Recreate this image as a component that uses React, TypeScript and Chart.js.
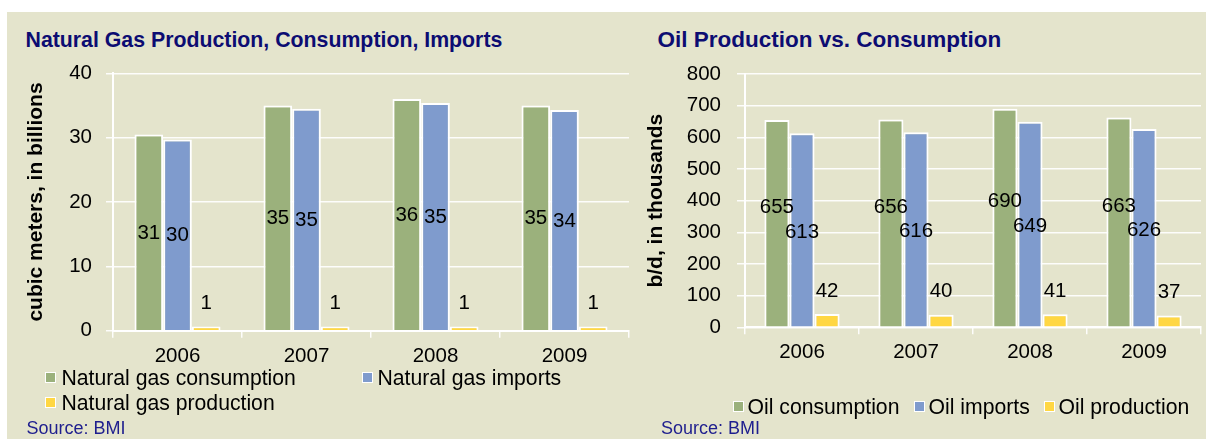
import React, { useEffect, useRef } from "react";
import { Chart, registerables } from "chart.js";

Chart.register(...registerables);

// ---------- data ----------
const years = ["2006", "2007", "2008", "2009"];

const gasConsumption = [30.5, 35.0, 36.0, 35.0];
const gasImports = [29.7, 34.5, 35.4, 34.3];
const gasProduction = [0.65, 0.65, 0.65, 0.65];
const gasSeriesNames = ["Natural gas consumption", "Natural gas imports", "Natural gas production"];

const oilConsumption = [655, 656, 690, 663];
const oilImports = [613, 616, 649, 626];
const oilProduction = [42, 40, 41, 37];
const oilSeriesNames = ["Oil consumption", "Oil imports", "Oil production"];

const gasTitle = "Natural Gas Production, Consumption, Imports";
const oilTitle = "Oil Production vs. Consumption";
const gasAxisTitle = "cubic meters, in billions";
const oilAxisTitle = "b/d, in thousands";
const sourceText = "Source: BMI";

// ---------- style ----------
const FONT = "'Liberation Sans', Arial, Helvetica, sans-serif";
const GREEN = "#9BB17C";
const BLUE = "#7F9BCD";
const YELLOW = "#FFD743";
const BEIGE = "#E4E4CC";
const NAVY = "#0C0C72";
const SRC = "#1E1E8E";
const GRID = "rgba(255,255,255,0.92)";
const seriesColors = [GREEN, BLUE, YELLOW];

type LabelMode = { frac?: number; above?: number };

const barLabels = {
  id: "barLabels",
  afterDatasetsDraw(chart: any, _args: any, opts: any) {
    const ctx = chart.ctx;
    ctx.save();
    ctx.font = `${opts.size}px ${FONT}`;
    ctx.fillStyle = "#000";
    ctx.textAlign = "center";
    ctx.textBaseline = "middle";
    chart.data.datasets.forEach((ds: any, di: number) => {
      const meta = chart.getDatasetMeta(di);
      const mode: LabelMode = opts.modes[di];
      meta.data.forEach((bar: any, i: number) => {
        const v = ds.data[i];
        const p = bar.getProps(["x", "y", "base"], true);
        const ly = mode.above != null ? p.y - mode.above : p.base + (p.y - p.base) * (mode.frac as number);
        ctx.fillText(String(Math.round(v)), p.x, ly);
      });
    });
    ctx.restore();
  },
};

function makeConfig(opts: {
  series: number[][];
  names: string[];
  max: number;
  step: number;
  axisTitle: string;
  yWidth: number;
  xHeight: number;
  padTop: number;
  padRight: number;
  titlePad: number;
  tickLen: number;
  tickPad: number;
  catPct: number;
  modes: LabelMode[];
}) {
  return {
    type: "bar",
    data: {
      labels: years,
      datasets: opts.series.map((d, i) => ({
        label: opts.names[i],
        data: d,
        backgroundColor: seriesColors[i],
        borderColor: "#FFFFFF",
        borderWidth: 2,
        borderSkipped: "start",
        barPercentage: 1,
        categoryPercentage: opts.catPct,
      })),
    },
    options: {
      animation: false,
      responsive: false,
      maintainAspectRatio: false,
      layout: { padding: { top: opts.padTop, right: opts.padRight, left: 0, bottom: 0 } },
      plugins: {
        legend: { display: false },
        title: { display: false },
        tooltip: { enabled: false },
        barLabels: { size: 20.5, modes: opts.modes },
      },
      scales: {
        x: {
          grid: {
            display: true,
            drawOnChartArea: false,
            drawTicks: true,
            tickLength: 7,
            color: GRID,
            lineWidth: 1.5,
            offset: true,
          },
          border: { display: true, color: "#FFFFFF", width: 2 },
          ticks: { font: { size: 20.5, family: FONT }, color: "#000", padding: 6 },
          afterFit: (s: any) => {
            s.height = opts.xHeight;
          },
        },
        y: {
          min: 0,
          max: opts.max,
          ticks: { stepSize: opts.step, font: { size: 20.5, family: FONT }, color: "#000", padding: opts.tickPad },
          grid: { color: GRID, lineWidth: 1.5, tickLength: opts.tickLen, drawTicks: true },
          border: { display: true, color: "#FFFFFF", width: 2 },
          title: {
            display: true,
            text: opts.axisTitle,
            color: "#000",
            font: { size: 21, weight: "bold", family: FONT },
            padding: { top: opts.titlePad, bottom: 0 },
          },
          afterFit: (s: any) => {
            s.width = opts.yWidth;
          },
        },
      },
    },
    plugins: [barLabels],
  } as any;
}

function BarChart({ config, left, width, height }: { config: any; left: number; width: number; height: number }) {
  const ref = useRef<HTMLCanvasElement | null>(null);
  useEffect(() => {
    if (!ref.current) return;
    const chart = new Chart(ref.current, config);
    return () => chart.destroy();
  }, [config]);
  return (
    <canvas
      ref={ref}
      width={width}
      height={height}
      style={{ position: "absolute", left, top: 0, width, height }}
    />
  );
}

function LegendItem({ color, text, boxX, textX, cy }: { color: string; text: string; boxX: number; textX: number; cy: number }) {
  return (
    <>
      <div
        style={{
          position: "absolute",
          left: boxX,
          top: cy - 6,
          width: 9,
          height: 9,
          background: color,
          border: "1.5px solid #fff",
        }}
      />
      <div
        style={{
          position: "absolute",
          left: textX,
          top: cy - 12,
          height: 24,
          lineHeight: "24px",
          fontSize: 21.2,
          fontFamily: FONT,
          color: "#000",
          whiteSpace: "nowrap",
        }}
      >
        {text}
      </div>
    </>
  );
}

const gasConfig = makeConfig({
  series: [gasConsumption, gasImports, gasProduction],
  names: gasSeriesNames,
  max: 40,
  step: 10,
  axisTitle: gasAxisTitle,
  yWidth: 113,
  xHeight: 49.3,
  padTop: 73.3,
  padRight: 7,
  titlePad: 24,
  tickLen: 7,
  tickPad: 14,
  catPct: 0.667,
  modes: [{ frac: 0.495 }, { frac: 0.495 }, { above: 23 }],
});

const oilConfig = makeConfig({
  series: [oilConsumption, oilImports, oilProduction],
  names: oilSeriesNames,
  max: 800,
  step: 100,
  axisTitle: oilAxisTitle,
  yWidth: 109,
  xHeight: 52.7,
  padTop: 74,
  padRight: 5,
  titlePad: 7.4,
  tickLen: 8,
  tickPad: 16,
  catPct: 0.66,
  modes: [{ frac: 0.575 }, { frac: 0.488 }, { above: 23 }],
});

export default function App() {
  const titleStyle: React.CSSProperties = {
    position: "absolute",
    top: 26.6,
    height: 26,
    lineHeight: "26px",
    fontWeight: "bold",
    fontFamily: FONT,
    color: NAVY,
    whiteSpace: "nowrap",
  };
  const srcStyle: React.CSSProperties = {
    position: "absolute",
    top: 428 - 11,
    height: 22,
    lineHeight: "22px",
    fontSize: 18,
    fontFamily: FONT,
    color: SRC,
    whiteSpace: "nowrap",
  };
  return (
    <div style={{ position: "absolute", left: 0, top: 0, width: 1206, height: 439, background: "#fff", overflow: "hidden" }}>
      <div style={{ position: "absolute", left: 7, top: 12, width: 1199, height: 427, background: BEIGE }} />
      <div style={{ ...titleStyle, left: 25.5, fontSize: 21.3 }}>{gasTitle}</div>
      <div style={{ ...titleStyle, left: 657.5, fontSize: 22.5 }}>{oilTitle}</div>
      <BarChart config={gasConfig} left={0} width={636} height={380} />
      <BarChart config={oilConfig} left={636} width={570} height={380} />
      <LegendItem color={GREEN} text={gasSeriesNames[0]} boxX={45} textX={61.5} cy={378} />
      <LegendItem color={BLUE} text={gasSeriesNames[1]} boxX={361.5} textX={377.5} cy={378} />
      <LegendItem color={YELLOW} text={gasSeriesNames[2]} boxX={45} textX={61.5} cy={402.5} />
      <LegendItem color={GREEN} text={oilSeriesNames[0]} boxX={732.5} textX={747.5} cy={407} />
      <LegendItem color={BLUE} text={oilSeriesNames[1]} boxX={914} textX={928.5} cy={407} />
      <LegendItem color={YELLOW} text={oilSeriesNames[2]} boxX={1043.5} textX={1058.5} cy={407} />
      <div style={{ ...srcStyle, left: 26.5 }}>{sourceText}</div>
      <div style={{ ...srcStyle, left: 661 }}>{sourceText}</div>
    </div>
  );
}
